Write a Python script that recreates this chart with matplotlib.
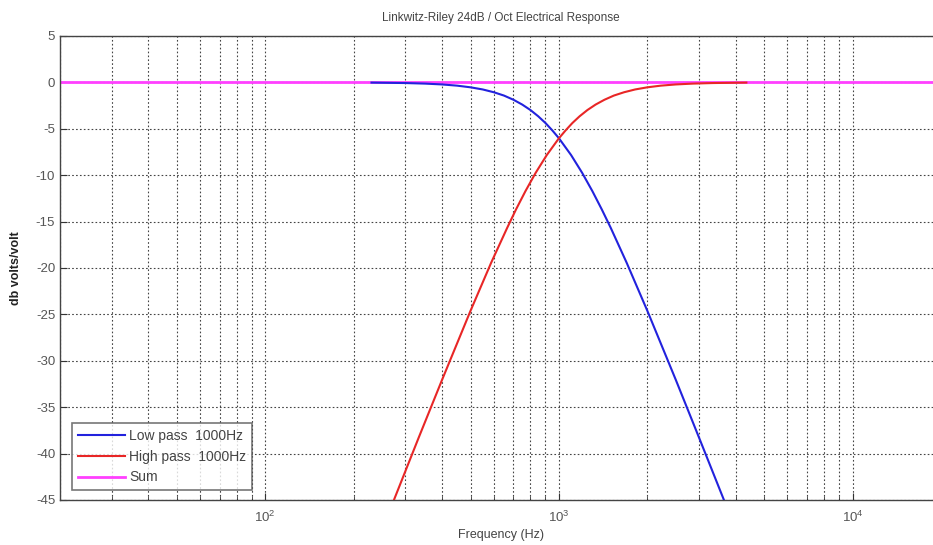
import matplotlib
matplotlib.use("Agg")
import matplotlib.pyplot as plt
from matplotlib.ticker import LogLocator, NullFormatter, MultipleLocator

plt.rcParams['font.family'] = ['Liberation Sans', 'DejaVu Sans']
plt.rcParams['axes.unicode_minus'] = False

# Data
lp_freq = [230, 300, 350, 400, 450, 500, 550, 600, 650, 700, 750, 800, 850, 900, 950,
           1000, 1100, 1200, 1300, 1400, 1500, 1700, 2000, 2500, 3000, 3650]
lp_db = [-0.02, -0.07, -0.13, -0.22, -0.35, -0.53, -0.76, -1.06, -1.42, -1.87, -2.39, -2.98,
         -3.65, -4.38, -5.18, -6.02, -7.83, -9.75, -11.72, -13.70, -15.65, -19.42, -24.61,
         -32.05, -38.28, -45.03]

hp_freq = [274, 333, 400, 500, 588, 667, 714, 769, 833, 909, 1000, 1053, 1111, 1176, 1250,
           1333, 1429, 1538, 1667, 1818, 2000, 2222, 2500, 2857, 3333, 4348]
hp_db = [-45.03, -38.28, -32.05, -24.61, -19.42, -15.65, -13.70, -11.72, -9.75, -7.83, -6.02,
         -5.18, -4.38, -3.65, -2.98, -2.39, -1.87, -1.42, -1.06, -0.76, -0.53, -0.35, -0.22,
         -0.13, -0.07, -0.02]

sum_freq = [20, 20000]
sum_db = [0, 0]

fig = plt.figure(figsize=(9.33, 5.45), dpi=100)
ax = fig.add_axes([60 / 933, 45 / 545, (941 - 60) / 933, (500 - 36) / 545])

ax.plot(sum_freq, sum_db, color='#ff40ff', lw=2.0, label='Sum', zorder=2)
ax.plot(lp_freq, lp_db, color='#2222dd', lw=1.5, label='Low pass  1000Hz', zorder=3)
ax.plot(hp_freq, hp_db, color='#e82626', lw=1.5, label='High pass  1000Hz', zorder=3)

ax.set_xscale('log')
ax.set_xlim(20, 20000)
ax.set_ylim(-45, 5)
ax.yaxis.set_major_locator(MultipleLocator(5))
ax.xaxis.set_major_locator(LogLocator(base=10, numticks=10))
ax.xaxis.set_minor_locator(LogLocator(base=10, subs=range(2, 10), numticks=100))
ax.xaxis.set_minor_formatter(NullFormatter())

ax.grid(True, which='major', axis='both', color='#444444', linestyle=(0, (1.5, 2)), lw=0.8)
ax.grid(True, which='minor', axis='x', color='#444444', linestyle=(0, (1.5, 2)), lw=0.8)

ax.tick_params(axis='both', which='both', direction='in', labelsize=9.5, colors='#333333',
               labelcolor='#555555')
ax.tick_params(axis='x', which='major', pad=7)
ax.tick_params(axis='both', which='major', length=5)
ax.tick_params(axis='both', which='minor', length=3)
for s in ax.spines.values():
    s.set_color('#444444')
    s.set_linewidth(1.0)

ax.set_title('Linkwitz-Riley 24dB / Oct Electrical Response', fontsize=8.5, color='#444444', pad=11)
ax.set_xlabel('Frequency (Hz)', fontsize=9, color='#444444', labelpad=3)
ax.set_ylabel('db volts/volt', fontsize=9, color='#222222', fontweight='bold', labelpad=10)

handles, labels = ax.get_legend_handles_labels()
order = [1, 2, 0]
leg = ax.legend([handles[i] for i in order], [labels[i] for i in order], loc='lower left',
                fontsize=10, frameon=True, fancybox=False, edgecolor='#555555',
                handlelength=3.4, handletextpad=0.3, borderpad=0.4, labelspacing=0.5,
                borderaxespad=0)
leg.set_bbox_to_anchor((72 / 933, 55 / 545), transform=fig.transFigure)
leg.get_frame().set_linewidth(1.2)
for t in leg.get_texts():
    t.set_color('#444444')

fig.savefig('out.png', dpi=100)
